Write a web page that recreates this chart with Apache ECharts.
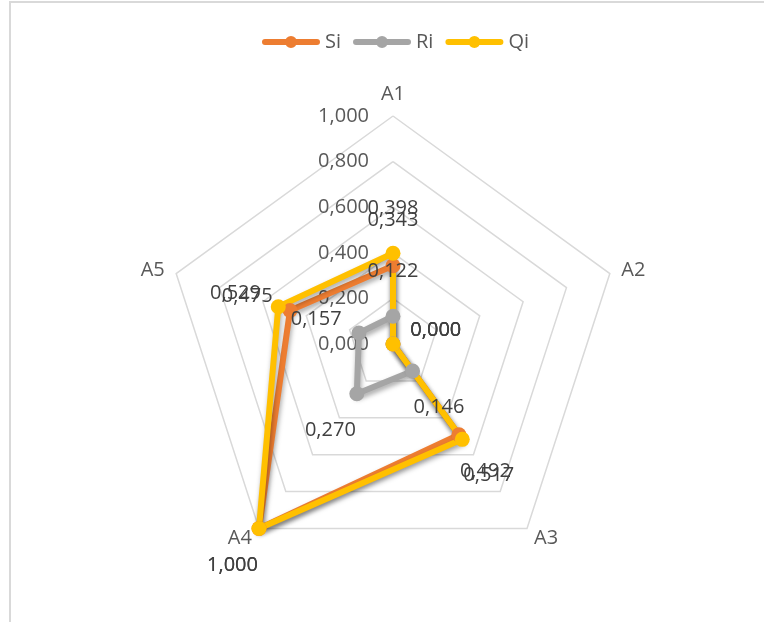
<!DOCTYPE html>
<html>
<head>
<meta charset="utf-8">
<script src="https://cdn.jsdelivr.net/npm/echarts@6/dist/echarts.min.js"></script>
<style>
  html, body { margin: 0; padding: 0; background: #fff; }
  #frame {
    position: absolute; left: 9px; top: 1px; width: 800px; height: 700px;
    border-left: 2px solid #d9d9d9; border-top: 2px solid #d9d9d9;
  }
  #main { position: absolute; left: 0; top: 0; width: 764px; height: 622px; }
</style>
</head>
<body>
<div id="frame"></div>
<div id="main"></div>
<script>
// axes of the radar (clockwise from the top, as in the picture)
const indicators = ['A1', 'A2', 'A3', 'A4', 'A5']
const seriesNames = ['Si', 'Ri', 'Qi']
// values per series, in the order of indicators
const siValues = [0.343, 0.000, 0.492, 1.000, 0.475]
const riValues = [0.122, 0.000, 0.146, 0.270, 0.157]
const qiValues = [0.398, 0.000, 0.517, 1.000, 0.529]
const axisMax = 1.0
const colors = ['#ED7D31', '#A5A5A5', '#FFC000']

// echarts lays radar axes out counter-clockwise, so walk the indicators backwards
const order = indicators.map((_, j) => (indicators.length - j) % indicators.length)
const reorder = vals => order.map(i => vals[i])
const allValues = [siValues, riValues, qiValues].map(reorder)
const fmt = v => Number(v).toFixed(3).replace('.', ',')
const font = '"Open Sans", "Noto Sans", sans-serif'

// the polygons
const polyData = allValues.map((vals, i) => ({
  name: seriesNames[i],
  value: vals,
  itemStyle: { color: colors[i] },
  lineStyle: {
    color: colors[i], width: 6,
    shadowColor: 'rgba(0,0,0,0.35)', shadowBlur: 5, shadowOffsetX: 1, shadowOffsetY: 3
  }
}))

// data labels: one invisible copy per axis so each label can move outward along its axis
const labelData = []
allValues.forEach(vals => {
  order.forEach((_, j) => {
    const ang = (90 + 72 * j) * Math.PI / 180
    labelData.push({
      value: vals,
      symbolSize: 1,
      itemStyle: { color: 'rgba(0,0,0,0)' },
      lineStyle: { opacity: 0, width: 0 },
      label: {
        show: true,
        position: 'inside',
        offset: [Math.cos(ang) * 45, -Math.sin(ang) * 45],
        color: '#404040',
        fontSize: 20,
        fontFamily: font,
        formatter: p => (p.dimensionIndex === j ? fmt(p.value) : '')
      }
    })
  })
})

const chart = echarts.init(document.getElementById('main'))
chart.setOption({
  animation: false,
  color: colors,
  legend: {
    top: 27,
    left: 257,
    itemWidth: 58,
    itemHeight: 12,
    itemGap: 12,
    icon: 'path://M3,3 L55,3 A3,3 0 0 1 55,9 L3,9 A3,3 0 0 1 3,3 Z M23,6 A6,6 0 1 1 35,6 A6,6 0 1 1 23,6 Z',
    textStyle: { fontSize: 20, color: '#595959', fontFamily: font },
    data: seriesNames
  },
  radar: {
    center: [393, 344],
    radius: 228,
    startAngle: 90,
    shape: 'polygon',
    splitNumber: 5,
    nameGap: 12,
    axisName: { color: '#595959', fontSize: 20, fontFamily: font },
    axisLine: { show: false },
    axisTick: { show: false },
    axisLabel: { show: false },
    splitArea: { show: false },
    splitLine: { lineStyle: { color: '#d9d9d9', width: 1.5 } },
    indicator: order.map((i, j) => {
      const ind = { name: indicators[i], min: 0, max: axisMax }
      if (j === 0) {
        ind.axisLabel = {
          show: true, color: '#595959', fontSize: 20, fontFamily: font, margin: 24,
          formatter: v => fmt(v)
        }
      }
      return ind
    })
  },
  series: [
    {
      type: 'radar',
      symbol: 'circle',
      symbolSize: 15,
      emphasis: { disabled: true },
      data: polyData
    },
    {
      type: 'radar',
      silent: true,
      emphasis: { disabled: true },
      data: labelData
    }
  ]
})
</script>
</body>
</html>
